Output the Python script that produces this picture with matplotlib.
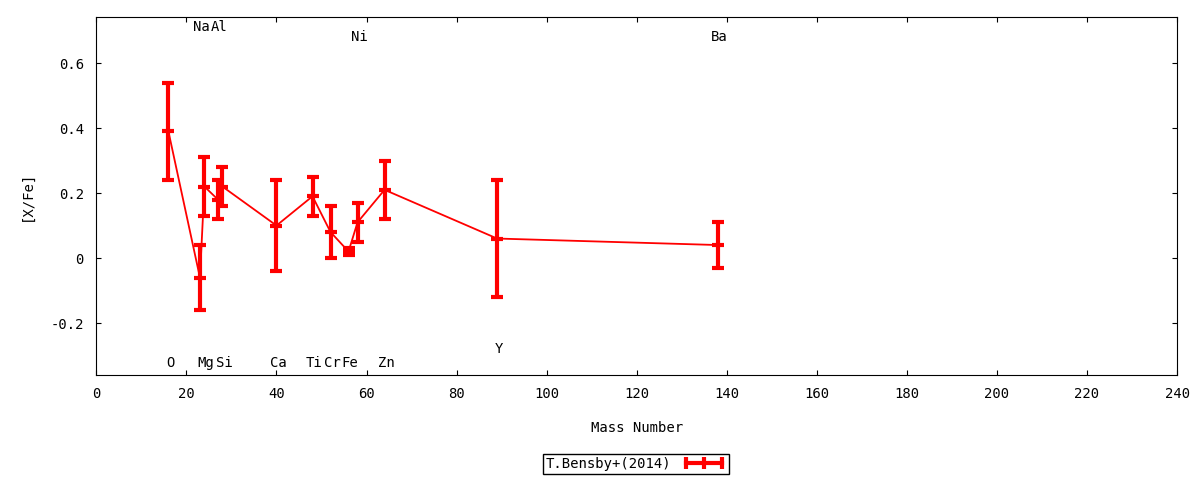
import matplotlib
matplotlib.use("Agg")
import matplotlib.pyplot as plt
from matplotlib.lines import Line2D

plt.rcParams['font.family'] = ['DejaVu Sans Mono']
plt.rcParams['font.size'] = 10

# data
elements = ['O', 'Na', 'Mg', 'Al', 'Si', 'Ca', 'Ti', 'Cr', 'Fe', 'Ni', 'Zn', 'Y', 'Ba']
mass = [16, 23, 24, 27, 28, 40, 48, 52, 56, 58, 64, 89, 138]
xfe = [0.39, -0.06, 0.22, 0.18, 0.22, 0.10, 0.19, 0.08, 0.02, 0.11, 0.21, 0.06, 0.04]
err = [0.15, 0.10, 0.09, 0.06, 0.06, 0.14, 0.06, 0.08, 0.01, 0.06, 0.09, 0.18, 0.07]
label_y = [-0.323, 0.71, -0.323, 0.71, -0.323, -0.323, -0.323, -0.323, -0.323,
           0.68, -0.323, -0.28, 0.68]

fig = plt.figure(figsize=(12, 4.8), dpi=100)
ax = fig.add_axes([0.0803, 0.2188, 0.9006, 0.7458])

ax.plot(mass, xfe, color='red', lw=1.3, zorder=2)
ax.errorbar(mass, xfe, yerr=err, fmt='_', color='red', ms=9, mew=3,
            elinewidth=3, capsize=4.5, capthick=3, zorder=3)

for el, m, ly in zip(elements, mass, label_y):
    ax.annotate(el, (m, ly), xytext=(1.2, 0), textcoords='offset points',
                ha='center', va='center', fontsize=10)

ax.set_xlim(0, 240)
ax.set_ylim(-0.36, 0.742)
ax.set_xticks(range(0, 241, 20))
ax.set_yticks([-0.2, 0, 0.2, 0.4, 0.6])
ax.set_yticklabels(['-0.2', '0', '0.2', '0.4', '0.6'])
ax.tick_params(direction='in', top=True, right=True, length=3.5, pad=9)
ax.set_xlabel('Mass Number', labelpad=14)
ax.set_ylabel('[X/Fe]', labelpad=12)

handle = Line2D([0], [0], color='red', lw=3, marker='|', ms=9, mew=3)
fig.legend([handle], ['T.Bensby+(2014)'], loc='center', bbox_to_anchor=(0.53, 0.033),
           markerfirst=False, numpoints=3, fancybox=False, edgecolor='black',
           framealpha=1, borderpad=0.2, handlelength=3.2, handletextpad=0.8)

fig.savefig('out.png', dpi=100)
